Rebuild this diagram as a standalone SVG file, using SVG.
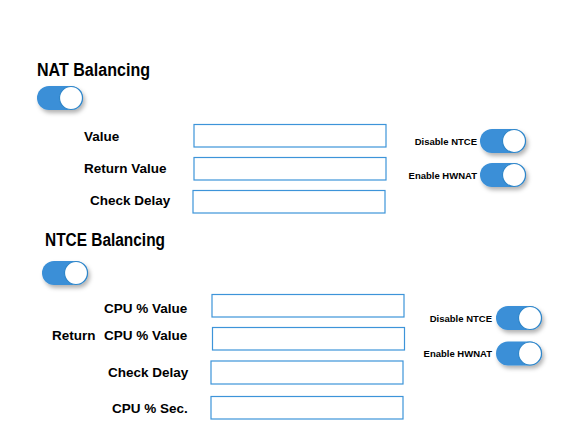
<svg xmlns="http://www.w3.org/2000/svg" width="586" height="437" viewBox="0 0 586 437">
<style>
.title{font-family:"Liberation Sans",Arial,sans-serif;font-weight:bold;font-size:18px;fill:#000}
.lbl{font-family:"Liberation Sans",Arial,sans-serif;font-weight:bold;font-size:13.5px;fill:#000}
.sm{font-family:"Liberation Sans",Arial,sans-serif;font-weight:bold;font-size:9.5px;fill:#000;text-anchor:end}
.box{fill:#fff;stroke:#3d94d9;stroke-width:1.2}
.track{fill:#3a8fd7}
.knob{fill:#fff;stroke:#2f86c9;stroke-width:1.2}
</style>
<defs>
<filter id="sh" x="-30%" y="-30%" width="170%" height="190%">
<feDropShadow dx="2" dy="3" stdDeviation="2" flood-color="#000" flood-opacity="0.3"/>
</filter>
<g id="tog">
<rect class="track" x="0" y="0" width="46" height="24" rx="12" filter="url(#sh)"/>
<circle class="knob" cx="34" cy="12" r="11.5"/>
</g>
</defs>
<rect width="586" height="437" fill="#fff"/>

<g id="nat-title"><text class="title" x="37" y="76" textLength="113" lengthAdjust="spacingAndGlyphs">NAT Balancing</text></g>
<g id="nat-toggle"><use href="#tog" x="37" y="86"/></g>

<g id="nat-value"><text class="lbl" x="84" y="141">Value</text><rect class="box" x="194" y="124.5" width="192" height="22.5"/></g>
<g id="nat-return"><text class="lbl" x="84" y="173">Return Value</text><rect class="box" x="194" y="157.5" width="192" height="22.5"/></g>
<g id="nat-delay"><text class="lbl" x="90" y="205">Check Delay</text><rect class="box" x="193" y="190.5" width="192" height="22.5"/></g>

<g id="nat-disable-ntce"><text class="sm" x="477" y="145">Disable NTCE</text><use href="#tog" x="480" y="129"/></g>
<g id="nat-enable-hwnat"><text class="sm" x="477" y="179">Enable HWNAT</text><use href="#tog" x="480" y="163"/></g>

<g id="ntce-title"><text class="title" x="45" y="246" textLength="120" lengthAdjust="spacingAndGlyphs">NTCE Balancing</text></g>
<g id="ntce-toggle"><use href="#tog" x="42" y="261"/></g>

<g id="ntce-cpu"><text class="lbl" x="104" y="313">CPU % Value</text><rect class="box" x="212" y="294.5" width="192" height="22.5"/></g>
<g id="ntce-return"><text class="lbl" x="52" y="340">Return</text><text class="lbl" x="104" y="340">CPU % Value</text><rect class="box" x="212.5" y="327.5" width="192" height="22.5"/></g>
<g id="ntce-delay"><text class="lbl" x="108" y="377">Check Delay</text><rect class="box" x="211" y="361" width="192" height="23"/></g>
<g id="ntce-sec"><text class="lbl" x="112" y="413">CPU % Sec.</text><rect class="box" x="211" y="396.5" width="192" height="22.5"/></g>

<g id="ntce-disable-ntce"><text class="sm" x="492" y="322">Disable NTCE</text><use href="#tog" x="496" y="306"/></g>
<g id="ntce-enable-hwnat"><text class="sm" x="492" y="357">Enable HWNAT</text><use href="#tog" x="496" y="341.5"/></g>
</svg>
